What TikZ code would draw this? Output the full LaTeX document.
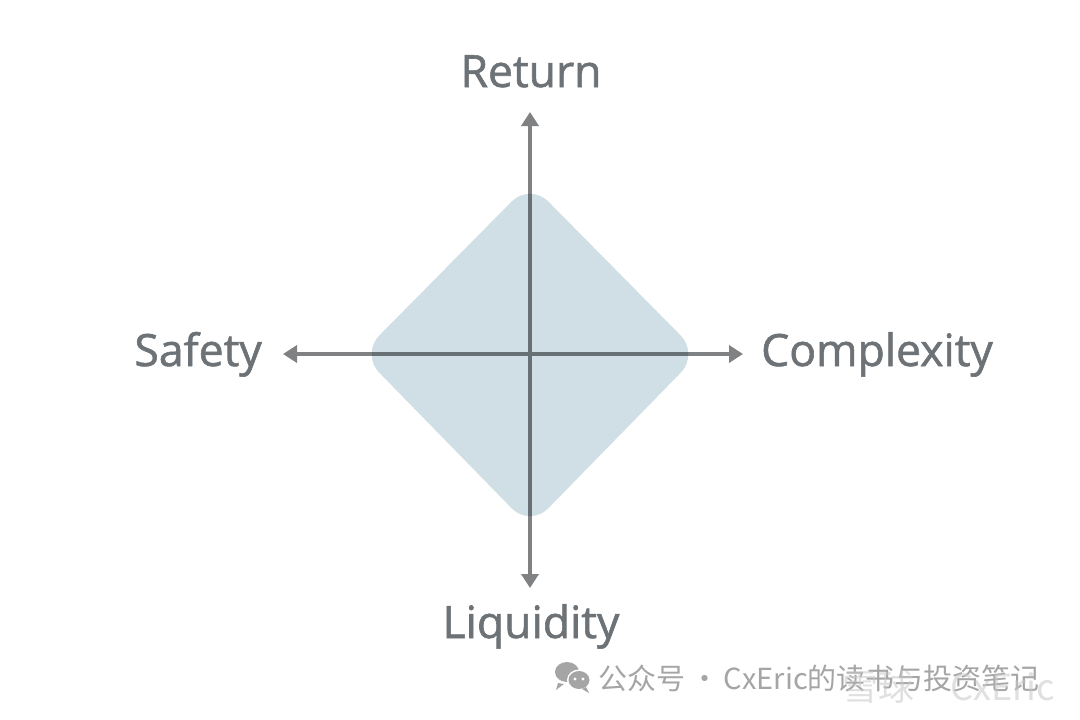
\documentclass[tikz,border=0pt]{standalone}
\usepackage{fontspec}
\setmainfont{Open Sans}
\newfontfamily\labelfont{Open Sans}[FakeBold=1.3]
\newfontfamily\cjkfont{Noto Sans CJK SC}
\usetikzlibrary{arrows.meta}
\definecolor{axisgray}{RGB}{127,129,131}
\definecolor{labelgray}{RGB}{108,114,118}
\definecolor{diamondfill}{RGB}{207,223,229}
\definecolor{wmgray}{RGB}{165,165,165}
\definecolor{wmlight}{RGB}{200,200,200}
\tikzset{
  axis/.style={draw=axisgray, line width=4.2pt, {Triangle[length=14pt,width=17pt]}-{Triangle[length=14pt,width=17pt]}},
  axislabel/.style={text=labelgray, font=\labelfont\fontsize{44.5}{50}\selectfont, inner sep=0pt, anchor=base},
  wmtext/.style={text=wmgray, font=\cjkfont\fontsize{29}{32}\selectfont, inner sep=0pt, anchor=base west},
}
\begin{document}
\begin{tikzpicture}[x=1pt,y=-1pt]
\useasboundingbox (0,0) rectangle (1080,720);
\fill[white] (0,0) rectangle (1080,720);
% axis end points
\coordinate (top) at (530,112);
\coordinate (bot) at (530,588);
\coordinate (lft) at (283,354);
\coordinate (rgt) at (743,354);
\draw[axis] (bot) -- (top);
\draw[axis] (lft) -- (rgt);
% diamond
\begin{scope}[blend mode=multiply]
\fill[diamondfill, rounded corners=26pt] (530,183) -- (699,354) -- (530,527) -- (361,354) -- cycle;
\end{scope}
% labels
\node[axislabel] (ret) at (531,87) {Return};
\node[axislabel] (liq) at (531,638) {Liquidity};
\node[axislabel, anchor=base east] (saf) at (262,366) {Safety};
\node[axislabel, anchor=base west] (cpx) at (761,366) {Complexity};
% watermark
\begin{scope}[wmgray]
\fill (567,672) ellipse [x radius=12pt, y radius=10pt];
\fill (558,683) -- (556,690) -- (564,684) -- cycle;
\fill[white] (579,680) ellipse [x radius=12pt, y radius=10.5pt];
\fill (579,680) ellipse [x radius=10.5pt, y radius=9pt];
\fill (586,687) -- (589,693) -- (582,689) -- cycle;
\fill[white] (575,679) circle (1.6pt) (583,679) circle (1.6pt);
\end{scope}
\node[wmtext] (wm) at (598,689) {公众号\,·\,CxEric的读书与投资笔记};
\node[font=\cjkfont\fontsize{36}{40}\selectfont, inner sep=0pt, anchor=base west, opacity=0.55, text=wmlight] (xq) at (842,700) {雪球\quad CxEric};
\end{tikzpicture}
\end{document}
